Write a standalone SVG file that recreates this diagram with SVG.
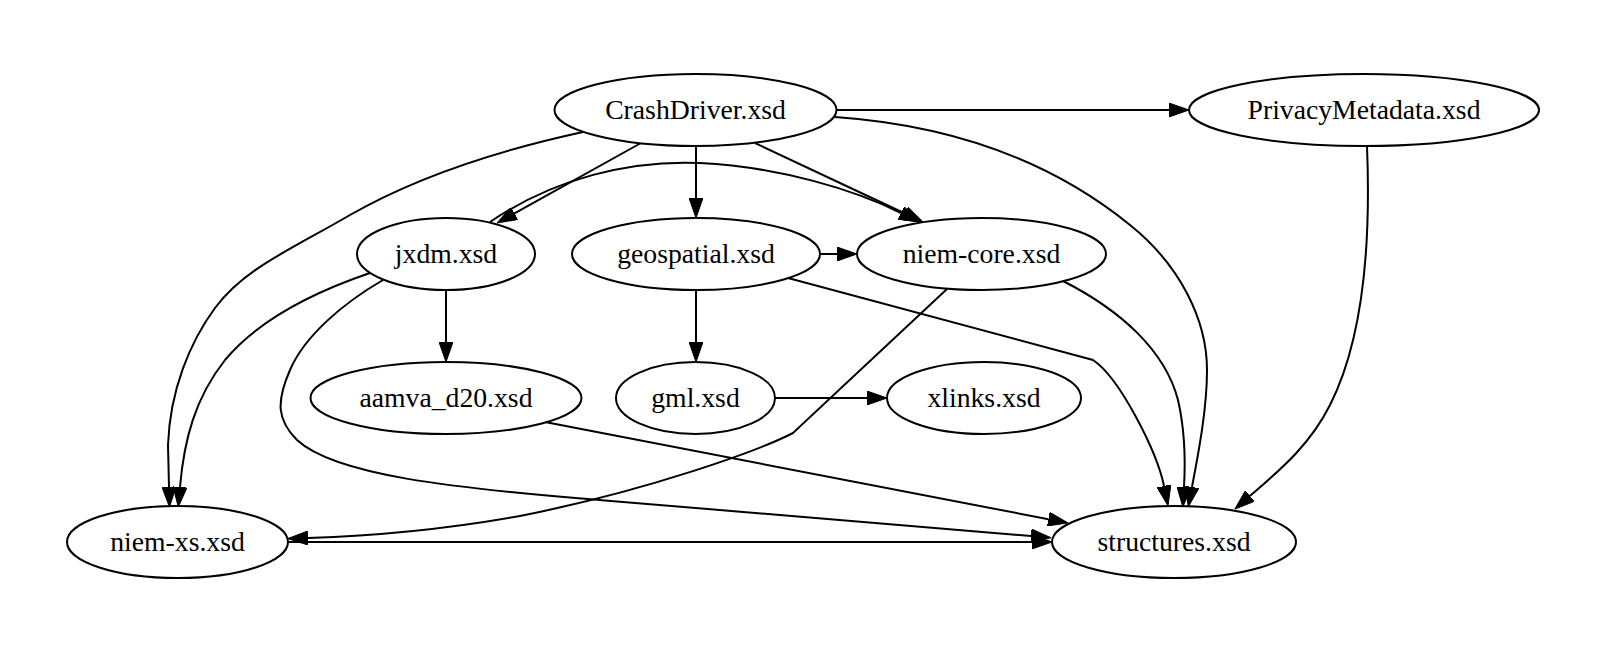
<svg xmlns="http://www.w3.org/2000/svg" width="1607" height="645" viewBox="0 0 1607 645">
<defs>
<style>
.node ellipse{fill:#ffffff;stroke:#000000;stroke-width:2}
.node text{font-family:"Liberation Serif","Times New Roman",serif;font-size:27.7px;text-anchor:middle;fill:#000000}
.edges path{fill:none;stroke:#000000;stroke-width:2;marker-end:url(#arr)}
</style>
<marker id="arr" viewBox="0 -7 20 14" refX="0" refY="0" markerWidth="20" markerHeight="14" markerUnits="userSpaceOnUse" orient="auto">
<path d="M0,-7 L20,0 L0,7 z" fill="#000000" stroke="#000000" stroke-width="1"/>
</marker>
</defs>
<rect x="0" y="0" width="1607" height="645" fill="#ffffff"/>
<g id="edges" class="edges">
<path d="M836.5,110 L1169,110"/>
<path d="M641,143 L514.5,213.3"/>
<path d="M696,146 L696,198"/>
<path d="M755,143 L904.9,213.5"/>
<path d="M583,132 C500,150 420,175 350,215 C290,250 245,268 215,308 C190,342 170,390 168,445 L169,487"/>
<path d="M835,117 C950,125 1050,160 1130,225 C1180,265 1207,320 1207,370 C1207,410 1198,455 1192,487"/>
<path d="M490,222 C555,178 630,160 700,163 C780,167 855,190 901,213"/>
<path d="M446,290 L446,342"/>
<path d="M370,273 C320,290 260,318 225,360 C195,398 184,440 180,487"/>
<path d="M383,280 C345,302 305,335 290,370 C276,402 277,420 297,440 C335,475 450,488 600,500 C750,512 900,525 1031,536"/>
<path d="M820,254 L837,254"/>
<path d="M696,290 L696,342"/>
<path d="M788,278 L1093,360 C1120,378 1157,452 1164,486"/>
<path d="M947,289 L793,433 C760,450 650,490 520,516 C420,534 340,537 308,538"/>
<path d="M1063,281 C1120,310 1165,350 1178,400 C1186,435 1185,470 1184,487"/>
<path d="M1367,146 C1370,220 1368,330 1330,405 C1310,445 1280,470 1250,496"/>
<path d="M545,422 L1048.4,519.2"/>
<path d="M775,398 L867,398"/>
<path d="M288,542 L1032,542"/>
</g>
<g id="CrashDriver" class="node"><ellipse cx="695.5" cy="110" rx="141" ry="36"/><text x="695.5" y="119">CrashDriver.xsd</text></g>
<g id="PrivacyMetadata" class="node"><ellipse cx="1364" cy="110" rx="175" ry="36"/><text x="1364" y="119">PrivacyMetadata.xsd</text></g>
<g id="jxdm" class="node"><ellipse cx="446" cy="254" rx="89" ry="36"/><text x="446" y="263">jxdm.xsd</text></g>
<g id="geospatial" class="node"><ellipse cx="696" cy="254" rx="124" ry="36"/><text x="696" y="263">geospatial.xsd</text></g>
<g id="niem-core" class="node"><ellipse cx="981.5" cy="254" rx="124.5" ry="36"/><text x="981.5" y="263">niem-core.xsd</text></g>
<g id="aamva_d20" class="node"><ellipse cx="446" cy="398" rx="135.5" ry="36"/><text x="446" y="407">aamva_d20.xsd</text></g>
<g id="gml" class="node"><ellipse cx="695.5" cy="398" rx="79.5" ry="36"/><text x="695.5" y="407">gml.xsd</text></g>
<g id="xlinks" class="node"><ellipse cx="984" cy="398" rx="97" ry="36"/><text x="984" y="407">xlinks.xsd</text></g>
<g id="niem-xs" class="node"><ellipse cx="177.5" cy="542" rx="110.5" ry="36"/><text x="177.5" y="551">niem-xs.xsd</text></g>
<g id="structures" class="node"><ellipse cx="1174" cy="542" rx="122" ry="36"/><text x="1174" y="551">structures.xsd</text></g>
</svg>
